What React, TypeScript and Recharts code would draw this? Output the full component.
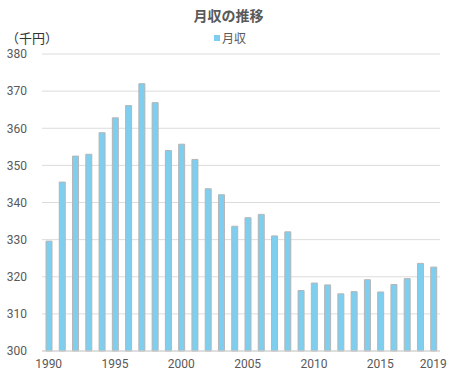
import { Bar, BarChart, CartesianGrid, XAxis, YAxis } from 'recharts'

const years = [
  '1990', '1991', '1992', '1993', '1994', '1995', '1996', '1997', '1998', '1999',
  '2000', '2001', '2002', '2003', '2004', '2005', '2006', '2007', '2008', '2009',
  '2010', '2011', '2012', '2013', '2014', '2015', '2016', '2017', '2018', '2019',
]
const monthly = [
  329.6, 345.5, 352.5, 353.0, 358.8, 362.8, 366.1, 372.0, 366.9, 354.0,
  355.7, 351.6, 343.7, 342.1, 333.6, 335.9, 336.8, 331.0, 332.1, 316.3,
  318.3, 317.8, 315.4, 316.0, 319.2, 315.9, 317.9, 319.5, 323.6, 322.6,
]
const yTicks = [300, 310, 320, 330, 340, 350, 360, 370, 380]
const xLabels = ['1990', '1995', '2000', '2005', '2010', '2015', '2019']

const data = years.map((y, i) => ({ year: y, value: monthly[i] }))

const jp = '"Noto Sans CJK JP", "Noto Sans", sans-serif'
const num = '"Liberation Sans Narrow", "Roboto", sans-serif'

export default function App() {
  return (
    <div style={{ position: 'absolute', left: 0, top: 0, width: 460, height: 375, background: '#fff', fontFamily: jp }}>
      <div style={{ position: 'absolute', top: 5, left: 0, width: 457, textAlign: 'center', fontSize: 14, fontWeight: 700, color: '#595959' }}>
        月収の推移
      </div>
      <div style={{ position: 'absolute', top: 28, left: 6, fontSize: 13, color: '#333' }}>（千円）</div>
      <div style={{ position: 'absolute', top: 29, left: 214, fontSize: 12, color: '#595959', display: 'flex', alignItems: 'center' }}>
        <span style={{ display: 'inline-block', width: 6, height: 6, background: '#7ecfef', marginRight: 2 }} />
        月収
      </div>
      <BarChart
        width={460}
        height={375}
        data={data}
        margin={{ top: 54, right: 20, left: 0, bottom: 0 }}
      >
        <CartesianGrid stroke="#dcdcdc" vertical={false} />
        <XAxis
          dataKey="year"
          interval={0}
          tickLine={false}
          axisLine={{ stroke: '#d0d0d0' }}
          height={24}
          tick={{ fontSize: 12, fill: '#595959', fontFamily: num }}
          tickFormatter={(v: string) => (xLabels.includes(v) ? v : '')}
        />
        <YAxis
          domain={[300, 380]}
          ticks={yTicks}
          tickLine={false}
          axisLine={false}
          width={42}
          tickMargin={9}
          tick={{ fontSize: 12, fill: '#595959', fontFamily: num }}
        />
        <Bar dataKey="value" name="月収" barSize={6} fill="#7ecfef" stroke="#b5b5b5" strokeWidth={1} isAnimationActive={false} />
      </BarChart>
    </div>
  )
}
